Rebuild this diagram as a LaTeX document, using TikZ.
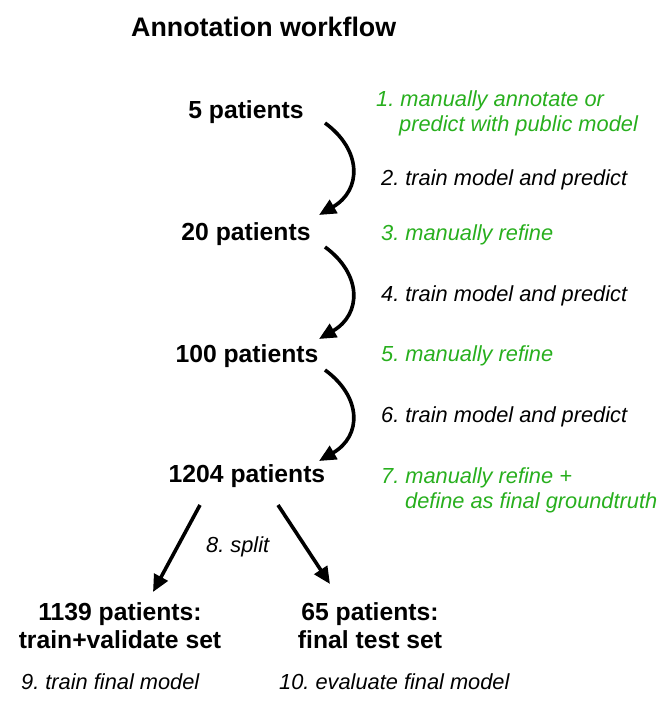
\documentclass[tikz,border=0pt]{standalone}
\usepackage{fontspec}
\setmainfont{Liberation Sans}
\usetikzlibrary{arrows.meta}
\definecolor{grn}{RGB}{40,175,30}
\frenchspacing
\tikzset{
  bold/.style={font=\bfseries\fontsize{24.7}{28}\selectfont, inner sep=0pt, anchor=base},
  ttl/.style={font=\bfseries\fontsize{26.8}{30}\selectfont, inner sep=0pt, anchor=base west},
  lab/.style={font=\itshape\fontsize{21.8}{25}\selectfont, inner sep=0pt, anchor=base west, align=left},
  glab/.style={lab, text=grn},
  arr/.style={line width=3.6pt, -{Triangle[length=17pt,width=15pt]}},
}
\begin{document}
\begin{tikzpicture}[x=1pt,y=-1pt]
\useasboundingbox (0,0) rectangle (663,701);
\node[ttl] (title) at (131,37) {Annotation workflow};

\node[bold] (p5) at (246,118) {5 patients};
\node[bold] (p20) at (246,240) {20 patients};
\node[bold] (p100) at (247,362) {100 patients};
\node[bold] (p1204) at (247,482) {1204 patients};

\node[glab] (l1a) at (376,106) {1. manually annotate or};
\node[glab] (l1b) at (399,131) {predict with public model};
\node[lab] (l2) at (381,185) {2. train model and predict};
\node[glab] (l3) at (381,240) {3. manually refine};
\node[lab] (l4) at (381,301) {4. train model and predict};
\node[glab] (l5) at (381,361) {5. manually refine};
\node[lab] (l6) at (381,422) {6. train model and predict};
\node[glab] (l7a) at (381,483) {7. manually refine +};
\node[glab] (l7b) at (405,508) {define as final groundtruth};
\node[lab] (l8) at (206,552) {8. split};

\node[bold] (ptv1) at (120,620) {1139 patients:};
\node[bold] (ptv2) at (120,648) {train+validate set};
\node[bold] (pt1) at (370,620) {65 patients:};
\node[bold] (pt2) at (370,648) {final test set};

\node[lab] (l9) at (21,689) {9. train final model};
\node[lab] (l10) at (279,689) {10. evaluate final model};

\coordinate (a1s) at (325,123);
\coordinate (a1e) at (319,215);
\coordinate (a2s) at (325,247);
\coordinate (a2e) at (319,339);
\coordinate (a3s) at (325,370);
\coordinate (a3e) at (319,461);
\coordinate (b1s) at (200,505);
\coordinate (b1e) at (153,592);
\coordinate (b2s) at (278,505);
\coordinate (b2e) at (330,584);

\draw[arr] (a1s) .. controls (362,150) and (362,190) .. (a1e);
\draw[arr] (a2s) .. controls (362,274) and (362,314) .. (a2e);
\draw[arr] (a3s) .. controls (362,397) and (362,436) .. (a3e);
\draw[arr] (b1s) -- (b1e);
\draw[arr] (b2s) -- (b2e);
\end{tikzpicture}
\end{document}
